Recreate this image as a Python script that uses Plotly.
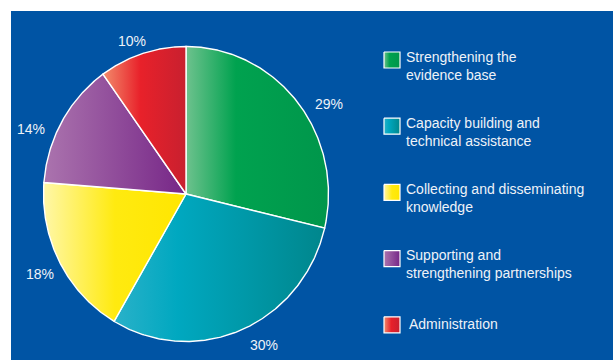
import numpy as np
import plotly.graph_objects as go

# Budget shares by activity area
categories = [
    "Strengthening the<br>evidence base",
    "Capacity building and<br>technical assistance",
    "Collecting and disseminating<br>knowledge",
    "Supporting and<br>strengthening partnerships",
    "Administration",
]
shares = [29, 30, 18, 14, 10]
share_labels = ["29%", "30%", "18%", "14%", "10%"]

# horizontal light-to-dark fill per slice
gradients = [
    [[0, "#6ec28e"], [0.35, "#00a24f"], [1, "#00964b"]],
    [[0, "#2ab1c9"], [0.3, "#00a8c0"], [1, "#00868c"]],
    [[0, "#fff7a8"], [0.5, "#ffea10"], [1, "#ffe600"]],
    [[0, "#ab74ae"], [1, "#762687"]],
    [[0, "#f28c6c"], [0.45, "#e8212a"], [1, "#c8202f"]],
]

BG = "#0054a4"
TXT = "#eef2f8"
FONT = "Liberation Sans, Arial, sans-serif"

# pie geometry in pixel units of the plot area
cx, cy = 186.0, 194.0
rx, ry = 142.5, 147.5
label_shift = [6.0, -4.0, -1.0, -6.6, -1.6]   # degrees
label_radius = [169, 170, 166, 168, 162]

fig = go.Figure()

total = float(sum(shares))
start = 0.0
for i, v in enumerate(shares):
    span = 360.0 * v / total
    t = np.radians(np.linspace(start, start + span, max(int(span * 2), 4)))
    xs = np.concatenate([[cx], cx + rx * np.sin(t), [cx]])
    ys = np.concatenate([[cy], cy - ry * np.cos(t), [cy]])
    fig.add_trace(go.Scatter(
        x=xs, y=ys, mode="lines", fill="toself",
        fillgradient=dict(type="horizontal", colorscale=gradients[i]),
        line=dict(color="white", width=1.4),
        hoverinfo="skip", showlegend=False,
    ))
    mid = np.radians(start + span / 2 + label_shift[i])
    fig.add_annotation(
        x=cx + label_radius[i] * np.sin(mid), y=cy - label_radius[i] * np.cos(mid),
        xref="x", yref="y", text=share_labels[i], showarrow=False,
        font=dict(family=FONT, size=14, color=TXT),
    )
    start += span

# legend: gradient swatches with captions
sq_x0, sq_size, top0, step = 384, 16, 52, 66.2
for i, name in enumerate(categories):
    top = top0 + i * step
    fig.add_trace(go.Scatter(
        x=[sq_x0, sq_x0 + sq_size, sq_x0 + sq_size, sq_x0, sq_x0],
        y=[top, top, top + sq_size, top + sq_size, top],
        mode="lines", fill="toself",
        fillgradient=dict(type="horizontal", colorscale=gradients[i]),
        line=dict(color="white", width=1.2),
        hoverinfo="skip", showlegend=False,
    ))
    two_line = "<br>" in name
    fig.add_annotation(
        x=404 if two_line else 407,
        y=top + (13.5 if two_line else 7.5),
        xref="x", yref="y", xanchor="left", yanchor="middle", align="left",
        text=name, showarrow=False,
        font=dict(family=FONT, size=14, color=TXT),
    )

fig.update_xaxes(range=[11, 613], visible=False, fixedrange=True)
fig.update_yaxes(range=[360, 11], visible=False, fixedrange=True)
fig.update_layout(
    width=613, height=360,
    margin=dict(l=11, t=11, r=0, b=0),
    paper_bgcolor="white", plot_bgcolor=BG,
    showlegend=False,
)

fig.write_html("out.html")
